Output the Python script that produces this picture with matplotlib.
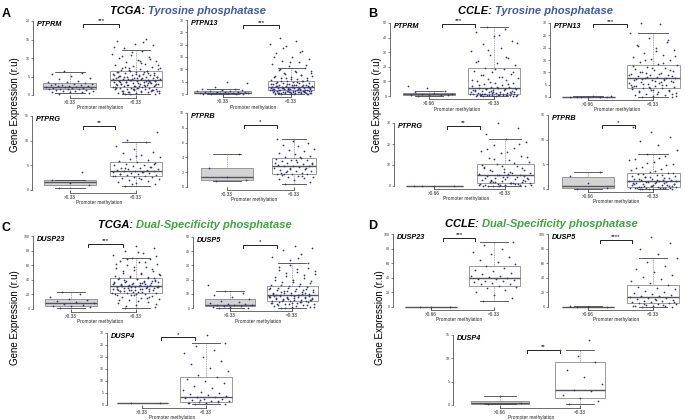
import matplotlib
matplotlib.use('Agg')
import matplotlib.pyplot as plt

plt.rcParams['font.family'] = ['Liberation Sans', 'DejaVu Sans']

W, H = 685, 420

# ---------------- data ----------------
# box stats per group: (whisker low, q1, median, q3, whisker high)
# first group = ">0.33"/">0.66" methylation, second group = "<0.33"

# A  TCGA tyrosine phosphatases
ptprm_tcga_box = [(0.5, 1.5, 2.1, 3.2, 6.1), (0.2, 2.1, 4.1, 6.5, 12.1)]
ptprm_tcga_hi = [0.3, 0.5, 0.7, 0.8, 0.9, 1.0, 1.1, 1.2, 1.3, 1.4, 1.5, 1.5, 1.6, 1.7, 1.8, 1.9, 2.0, 2.0,
                 2.1, 2.1, 2.2, 2.3, 2.4, 2.5, 2.6, 2.7, 2.8, 2.9, 3.0, 3.1, 3.2, 3.4, 3.6, 3.9, 4.2, 4.6,
                 5.1, 5.6, 6.0, 6.5]
ptprm_tcga_lo = [0.2, 0.4, 0.5, 0.6, 0.8, 0.9, 1.0, 1.1, 1.2, 1.3, 1.4, 1.5, 1.5, 1.6, 1.7, 1.8, 1.9, 2.0,
                 2.0, 2.1, 2.2, 2.3, 2.4, 2.5, 2.6, 2.7, 2.8, 2.9, 3.0, 3.1, 3.2, 3.3, 3.4, 3.5, 3.6, 3.7,
                 3.8, 3.9, 4.0, 4.1, 4.2, 4.3, 4.4, 4.5, 4.6, 4.7, 4.8, 4.9, 5.0, 5.1, 5.2, 5.4, 5.5, 5.6,
                 5.8, 5.9, 6.0, 6.2, 6.3, 6.5, 6.7, 6.9, 7.1, 7.3, 7.6, 7.9, 8.2, 8.5, 8.8, 9.1, 9.5, 9.9,
                 10.3, 10.8, 11.2, 11.9, 12.6, 13.4, 13.9, 14.5, 15.1, 0.7, 1.2, 2.4, 3.1, 3.6, 4.4, 5.3,
                 6.1, 7.7, 2.8, 1.9, 4.9, 3.3, 0.3, 0.6, 0.9, 1.1, 1.4, 1.7, 2.0, 2.3, 2.6, 2.9, 3.2, 3.5,
                 3.8, 4.1, 4.4, 4.7, 5.0, 5.3, 5.7, 6.1, 6.6, 7.2, 8.0, 9.3, 10.6, 1.0, 1.6, 2.2, 2.7, 3.4,
                 3.9, 4.6, 5.2, 5.9, 6.4, 7.4, 8.7, 0.5, 1.3, 2.5, 3.0, 3.7, 4.3, 4.8, 5.5, 6.8, 9.7, 11.5,
                 12.9, 14.2]

ptpn13_tcga_box = [(0.1, 0.25, 0.5, 1.1, 2.1), (0.0, 1.5, 2.8, 5.4, 10.5)]
ptpn13_tcga_hi = [0.1, 0.1, 0.2, 0.2, 0.2, 0.3, 0.3, 0.3, 0.4, 0.4, 0.5, 0.5, 0.6, 0.6, 0.7, 0.8, 0.8, 0.9,
                  1.0, 1.1, 1.2, 1.3, 1.5, 1.7, 1.9, 2.1, 3.0, 4.3, 4.8]
ptpn13_tcga_lo = [0.0, 0.1, 0.2, 0.2, 0.3, 0.4, 0.5, 0.5, 0.6, 0.7, 0.8, 0.9, 1.0, 1.0, 1.1, 1.2, 1.3, 1.4,
                  1.4, 1.5, 1.6, 1.7, 1.8, 1.9, 2.0, 2.0, 2.1, 2.2, 2.3, 2.4, 2.5, 2.6, 2.7, 2.7, 2.8, 2.9,
                  3.0, 3.1, 3.2, 3.3, 3.4, 3.6, 3.7, 3.8, 4.0, 4.1, 4.3, 4.5, 4.6, 4.8, 5.0, 5.2, 5.4, 5.7,
                  6.0, 6.3, 6.6, 7.0, 7.3, 7.8, 8.2, 8.7, 9.3, 9.8, 10.4, 11.2, 12.0, 12.8, 13.5, 14.3,
                  15.2, 16.5, 17.3, 19.5, 20.4, 21.6, 22.8, 0.3, 0.8, 1.1, 1.6, 2.2, 2.5, 3.5, 0.6, 1.3,
                  1.9, 2.4, 0.9, 0.4, 0.1, 0.3, 0.5, 0.7, 0.9, 1.1, 1.3, 1.5, 1.7, 1.9, 2.1, 2.3, 2.5, 2.8,
                  3.0, 3.3, 3.6, 3.9, 4.2, 4.7, 5.1, 5.6, 6.2, 6.8, 7.6, 8.4, 9.5, 0.2, 0.6, 1.0, 1.4, 1.8,
                  2.2, 2.6, 3.1, 3.5, 4.4, 5.3, 6.5, 7.1, 8.9, 10.1, 11.6, 13.1, 14.8, 16.9, 18.6, 0.4,
                  0.8, 1.2]

ptprg_tcga_box = [(0.5, 1.0, 1.6, 2.1, 2.1), (0.9, 2.8, 3.9, 5.7, 9.7)]
ptprg_tcga_hi = [0.5, 1.0, 1.5, 2.0, 3.7]
ptprg_tcga_lo = [0.9, 1.2, 1.4, 1.6, 1.8, 2.0, 2.2, 2.3, 2.5, 2.6, 2.7, 2.8, 2.9, 3.0, 3.1, 3.2, 3.3, 3.4,
                 3.5, 3.6, 3.7, 3.8, 3.9, 3.9, 4.0, 4.1, 4.2, 4.3, 4.4, 4.5, 4.6, 4.8, 5.0, 5.1, 5.3, 5.5,
                 5.6, 5.8, 6.0, 6.3, 6.6, 7.0, 7.4, 7.8, 8.3, 8.9, 9.7, 10.2, 11.7, 2.4, 3.3, 4.7, 1.3,
                 2.9, 3.6, 4.4, 5.2, 6.8]

ptprb_tcga_box = [(0.86, 0.95, 1.3, 2.6, 4.4), (0.4, 1.8, 2.8, 3.95, 6.5)]
ptprb_tcga_hi = [0.85, 0.95, 1.3, 2.6, 4.4]
ptprb_tcga_lo = [0.4, 0.7, 0.9, 1.1, 1.2, 1.3, 1.4, 1.5, 1.6, 1.7, 1.8, 1.8, 1.9, 2.0, 2.1, 2.2, 2.3, 2.4,
                 2.5, 2.6, 2.7, 2.8, 2.8, 2.9, 3.0, 3.1, 3.2, 3.3, 3.4, 3.5, 3.6, 3.7, 3.8, 3.9, 4.0, 4.2,
                 4.4, 4.6, 4.8, 5.0, 5.2, 5.5, 5.7, 6.0, 6.2, 6.5, 1.5, 2.2, 3.1, 3.6, 1.9, 2.6, 2.4, 3.3,
                 4.1, 1.7]

# B  CCLE tyrosine phosphatases
ptprm_ccle_box = [(0.2, 0.5, 1.1, 2.3, 3.4), (0.0, 1.1, 5.3, 19.5, 47.5)]
ptprm_ccle_hi = [0.2, 0.4, 0.6, 0.8, 1.0, 1.2, 1.6, 2.1, 2.6, 3.4, 5.2, 6.8]
ptprm_ccle_lo = [0.0, 0.1, 0.2, 0.3, 0.4, 0.5, 0.6, 0.7, 0.8, 0.9, 1.0, 1.1, 1.2, 1.4, 1.6, 1.8, 2.0, 2.2,
                 2.5, 2.8, 3.0, 3.3, 3.6, 3.9, 4.2, 4.5, 4.8, 5.1, 5.3, 5.6, 6.0, 6.5, 7.0, 7.5, 8.0, 8.6,
                 9.2, 10.0, 10.8, 11.5, 12.4, 13.3, 14.2, 15.0, 16.1, 17.0, 18.2, 19.5, 21.0, 22.5, 24.0,
                 26.0, 28.0, 30.5, 33.0, 35.5, 38.0, 41.0, 44.0, 46.0, 47.5, 0.3, 0.9, 1.5, 2.4, 3.1, 4.0,
                 0.6, 1.3, 2.7, 0.15, 0.35, 0.55, 0.75, 1.05, 1.35, 1.7, 2.1, 2.6, 3.2, 3.8, 4.6, 5.5, 6.3,
                 7.2, 8.3, 9.6, 11.0, 12.8, 14.6, 16.6, 18.8, 23.0, 27.0, 31.5, 36.5, 42.0, 0.45, 0.85, 1.9]

ptpn13_ccle_box = [(0.0, 0.05, 0.1, 0.2, 0.3), (0.0, 3.8, 7.6, 12.8, 26.0)]
ptpn13_ccle_hi = [0.0, 0.05, 0.1, 0.1, 0.15, 0.2, 0.25, 0.3]
ptpn13_ccle_lo = [0.0, 0.2, 0.5, 0.8, 1.0, 1.3, 1.6, 2.0, 2.3, 2.6, 3.0, 3.3, 3.6, 3.8, 4.0, 4.3, 4.6, 4.9,
                  5.2, 5.5, 5.8, 6.1, 6.4, 6.7, 7.0, 7.3, 7.6, 7.9, 8.2, 8.5, 8.8, 9.1, 9.4, 9.8, 10.2,
                  10.6, 11.0, 11.4, 11.8, 12.3, 12.8, 13.4, 14.0, 14.8, 15.5, 16.3, 17.0, 18.0, 19.0,
                  20.0, 21.0, 22.5, 24.0, 26.0, 29.5, 30.0, 1.1, 2.8, 4.4, 6.9, 9.6, 0.4, 1.2, 2.1, 2.9,
                  3.5, 4.1, 4.7, 5.3, 5.9, 6.5, 7.1, 7.7, 8.3, 8.9, 9.5, 10.1, 10.8, 11.6, 12.5, 13.7,
                  15.1, 16.7, 18.5, 20.5, 23.0, 3.9, 5.0, 6.2, 7.4, 8.6]

ptprg_ccle_box = [(0.0, 0.01, 0.02, 0.03, 0.05), (0.0, 1.5, 5.0, 10.5, 22.4)]
ptprg_ccle_hi = [0.0, 0.0, 0.05, 0.05]
ptprg_ccle_lo = [0.0, 0.2, 0.4, 0.6, 0.8, 1.0, 1.2, 1.5, 1.8, 2.1, 2.5, 2.8, 3.2, 3.6, 4.0, 4.4, 4.8, 5.0,
                 5.4, 5.9, 6.4, 7.0, 7.6, 8.2, 8.9, 9.6, 10.5, 11.4, 12.3, 13.3, 14.4, 15.5, 16.8, 18.0,
                 19.5, 21.0, 22.4, 25.0, 27.5, 29.8, 0.5, 1.4, 2.3, 3.0, 4.2, 0.1, 0.9, 1.7, 3.4, 5.6,
                 0.05, 0.3, 0.7, 1.1, 1.6, 2.0, 2.6, 3.1, 3.8, 4.5, 5.2, 6.1, 6.9, 7.8, 8.6, 9.3, 10.1,
                 11.0, 12.8, 14.0, 16.2, 17.5, 20.2, 0.15, 0.45, 1.3, 2.7, 4.6, 6.6, 8.4]

ptprb_ccle_box = [(0.1, 0.2, 0.7, 2.4, 3.5), (0.0, 0.4, 1.7, 3.2, 7.1)]
ptprb_ccle_hi = [0.1, 0.3, 1.2, 2.7, 3.5]
ptprb_ccle_lo = [0.0, 0.05, 0.1, 0.15, 0.2, 0.3, 0.35, 0.4, 0.5, 0.6, 0.7, 0.8, 0.9, 1.0, 1.1, 1.2, 1.3,
                 1.4, 1.5, 1.6, 1.7, 1.8, 1.9, 2.0, 2.1, 2.3, 2.5, 2.7, 2.9, 3.1, 3.2, 3.5, 3.8, 4.1, 4.5,
                 5.0, 5.5, 6.0, 6.6, 7.1, 8.0, 9.0, 9.8, 10.5, 11.5, 12.5, 0.2, 0.6, 1.0, 1.4, 0.3, 0.8,
                 0.02, 0.12, 0.25, 0.45, 0.55, 0.75, 0.95, 1.15, 1.35, 1.55, 1.75, 1.95, 2.2, 2.4, 2.6,
                 2.8, 3.0, 3.3, 3.7, 4.3, 4.8, 5.3, 5.8, 6.3, 0.08, 0.18, 0.65, 1.25, 1.85, 2.35]

# C  TCGA dual-specificity phosphatases
dusp23_tcga_box = [(1.8, 4.1, 8.7, 13.7, 23.7), (1.0, 22.4, 31.5, 42.9, 70.0)]
dusp23_tcga_hi = [1.8, 2.5, 3.5, 4.1, 5.5, 7.0, 8.7, 9.5, 10.5, 12.0, 13.7, 17.0, 20.5, 23.7]
dusp23_tcga_lo = [1, 3, 5, 8, 10, 12, 14, 15, 17, 18, 19, 20, 21, 22, 22.4, 23, 24, 25, 26, 27, 28, 28.5,
                  29, 30, 30.5, 31, 31.5, 32, 33, 34, 35, 36, 37, 38, 39, 40, 41, 42, 42.9, 44, 46, 48,
                  50, 52, 54, 56, 58, 60, 62, 64, 66, 68, 70, 74, 77, 80, 83, 86, 25.5, 29.5, 33.5, 36.5,
                  27.5, 31.2, 38.5, 23.5, 45, 34.5, 4, 7, 11, 13, 16, 19, 21.5, 23.2, 24.5, 25.8, 26.5,
                  27.2, 28.2, 29.2, 30.2, 31.8, 32.5, 33.2, 34.2, 35.5, 36.8, 37.5, 38.8, 40.5, 41.5, 43.5,
                  45.5, 47.5, 49.5, 52.5, 55, 57.5, 61, 65, 69, 72, 78, 24.8, 27.8, 30.8, 33.8, 36.2,
                  39.5, 42.2, 20.5, 18.5, 15.5, 26.2, 29.8, 35.2]

dusp5_tcga_box = [(0.0, 1.2, 2.3, 6.3, 12.2), (0.0, 5.2, 8.9, 15.2, 31.6)]
dusp5_tcga_hi = [0.0, 0.3, 0.6, 1.0, 1.2, 1.5, 1.8, 2.1, 2.3, 2.6, 3.0, 3.5, 4.2, 5.0, 6.3, 7.5, 9.0, 10.5,
                 12.2, 16.0]
dusp5_tcga_lo = [0.0, 0.5, 1.0, 1.5, 2.0, 2.5, 3.0, 3.5, 4.0, 4.5, 5.0, 5.2, 5.6, 6.0, 6.4, 6.8, 7.2, 7.6,
                 8.0, 8.4, 8.9, 9.3, 9.8, 10.3, 10.8, 11.4, 12.0, 12.6, 13.3, 14.0, 14.6, 15.2, 16.0,
                 17.0, 18.0, 19.0, 20.0, 21.5, 23.0, 24.5, 26.0, 27.5, 29.0, 31.6, 33.5, 36.0, 38.0,
                 41.0, 42.0, 44.0, 2.8, 4.8, 6.6, 7.4, 9.0, 11.0, 5.4, 3.8, 8.2, 12.9, 0.2, 0.8, 1.3,
                 1.8, 2.3, 2.9, 3.4, 4.2, 4.7, 5.5, 5.9, 6.2, 6.7, 7.0, 7.5, 7.9, 8.3, 8.7, 9.1, 9.6,
                 10.1, 10.6, 11.2, 11.8, 12.4, 13.1, 13.8, 14.4, 15.6, 16.5, 17.5, 18.6, 19.6, 21.0,
                 22.5, 24.0, 25.5, 27.0, 28.5, 30.5, 3.2, 4.4, 5.8, 6.9, 8.6, 9.4, 10.9, 12.2, 13.6, 35.0]

dusp4_tcga_box = [(1.0, 1.0, 1.0, 1.0, 1.0), (0.4, 1.4, 3.5, 11.6, 26.0)]
dusp4_tcga_hi = [1.0, 1.0]
dusp4_tcga_lo = [0.4, 0.6, 0.8, 1.0, 1.2, 1.4, 1.6, 1.8, 2.0, 2.3, 2.6, 3.0, 3.3, 3.5, 3.8, 4.2, 4.6, 5.0,
                 5.6, 6.3, 7.0, 8.0, 9.0, 10.0, 11.0, 11.6, 12.5, 14.0, 15.5, 17.0, 18.5, 20.0, 21.5,
                 23.0, 24.5, 26.0, 29.0, 0.9, 1.5, 2.1]

# D  CCLE dual-specificity phosphatases
dusp23_ccle_box = [(0.0, 0.0, 0.05, 0.1, 0.1), (7.8, 29.4, 40.0, 56.0, 88.5)]
dusp23_ccle_hi = [0.0, 0.0, 0.1]
dusp23_ccle_lo = [7.8, 12, 16, 20, 23, 26, 28, 29.4, 31, 32, 33, 34, 35, 36, 37, 38, 39, 40, 41, 42, 43,
                  45, 47, 49, 51, 53, 56, 59, 62, 65, 68, 72, 76, 80, 85, 88.5]

dusp5_ccle_box = [(0.0, 0.1, 0.3, 0.6, 0.8), (0.0, 5.5, 13.7, 30.0, 67.0)]
dusp5_ccle_hi = [0.0, 0.2, 0.5, 0.8]
dusp5_ccle_lo = [0.0, 0.5, 1.0, 1.5, 2.0, 2.8, 3.5, 4.2, 5.0, 5.5, 6.2, 7.0, 7.8, 8.6, 9.5, 10.4, 11.3,
                 12.2, 13.0, 13.7, 14.5, 15.5, 16.5, 17.8, 19.0, 20.5, 22.0, 24.0, 26.0, 28.0, 30.0,
                 32.5, 35.0, 38.0, 41.0, 44.0, 48.0, 52.0, 56.0, 61.0, 67.0, 73.0, 80.0, 88.0, 96.0,
                 1.2, 3.1, 4.6, 6.8, 9.1]

dusp4_ccle_box = [(0.2, 0.3, 0.5, 0.8, 2.0), (0.3, 1.5, 3.2, 9.2, 11.8)]
dusp4_ccle_hi = [0.2, 0.5, 2.0]
dusp4_ccle_lo = [0.3, 0.8, 1.5, 2.2, 3.0, 3.3, 4.5, 6.0, 7.5, 9.2, 10.5, 11.8, 14.0]

# ---------------- layout (pixels of the 685x420 canvas) ----------------
# sx: y-axis x, yt/y0: pixel rows of top tick / zero, c1,c2: group centres,
# w1,w2: box widths, br: bracket span in group units, by: bracket height (fraction of top tick)
subplots = [
    dict(gene='PTPRM', cut='>0.33', hi=ptprm_tcga_hi, lo=ptprm_tcga_lo, box=ptprm_tcga_box, ymax=20, step=5,
         stars='***', sx=33, yt=21, y0=95, c1=70, c2=136, w1=53, w2=52, br=(1.20, 1.74), by=0.96),
    dict(gene='PTPN13', cut='>0.33', hi=ptpn13_tcga_hi, lo=ptpn13_tcga_lo, box=ptpn13_tcga_box, ymax=30, step=5,
         stars='***', sx=187, yt=20, y0=94, c1=223, c2=291, w1=57, w2=46, br=(1.30, 1.82), by=0.93),
    dict(gene='PTPRG', cut='>0.33', hi=ptprg_tcga_hi, lo=ptprg_tcga_lo, box=ptprg_tcga_box, ymax=15, step=5,
         stars='**', sx=32, yt=116, y0=190, c1=70, c2=136, w1=53, w2=52, br=(1.20, 1.68), by=0.87),
    dict(gene='PTPRB', cut='>0.33', hi=ptprb_tcga_hi, lo=ptprb_tcga_lo, box=ptprb_tcga_box, ymax=10, step=2,
         stars='*', sx=187, yt=113, y0=187, c1=227, c2=294, w1=52, w2=44, br=(1.25, 1.75), by=0.84),
    dict(gene='PTPRM', cut='>0.66', hi=ptprm_ccle_hi, lo=ptprm_ccle_lo, box=ptprm_ccle_box, ymax=50, step=10,
         stars='***', sx=390, yt=23, y0=96, c1=429, c2=494, w1=52, w2=52, br=(1.20, 1.71), by=0.99),
    dict(gene='PTPN13', cut='>0.66', hi=ptpn13_ccle_hi, lo=ptpn13_ccle_lo, box=ptpn13_ccle_box, ymax=30, step=5,
         stars='***', sx=550, yt=23, y0=97, c1=588, c2=653, w1=53, w2=53, br=(1.08, 1.60), by=0.98),
    dict(gene='PTPRG', cut='>0.66', hi=ptprg_ccle_hi, lo=ptprg_ccle_lo, box=ptprg_ccle_box, ymax=30, step=10,
         stars='**', sx=394, yt=123, y0=186, c1=434, c2=505, w1=57, w2=57, br=(1.18, 1.65), by=0.96),
    dict(gene='PTPRB', cut='>0.66', hi=ptprb_ccle_hi, lo=ptprb_ccle_lo, box=ptprb_ccle_box, ymax=15, step=5,
         stars='*', sx=548, yt=115, y0=189, c1=588, c2=653, w1=52, w2=53, br=(1.22, 1.72), by=0.86),
    dict(gene='DUSP23', cut='>0.33', hi=dusp23_tcga_hi, lo=dusp23_tcga_lo, box=dusp23_tcga_box, ymax=100, step=20,
         stars='***', sx=33, yt=236, y0=309, c1=71, c2=136, w1=52, w2=52, br=(1.26, 1.80), by=0.89),
    dict(gene='DUSP5', cut='>0.33', hi=dusp5_tcga_hi, lo=dusp5_tcga_lo, box=dusp5_tcga_box, ymax=50, step=10,
         stars='*', sx=193, yt=237, y0=308, c1=230, c2=292, w1=50, w2=51, br=(1.21, 1.76), by=0.89),
    dict(gene='DUSP4', cut='>0.33', hi=dusp4_tcga_hi, lo=dusp4_tcga_lo, box=dusp4_tcga_box, ymax=30, step=5,
         stars='*', sx=107, yt=333, y0=405, c1=142, c2=206, w1=51, w2=52, br=(1.30, 1.83), by=0.94),
    dict(gene='DUSP23', cut='>0.66', hi=dusp23_ccle_hi, lo=dusp23_ccle_lo, box=dusp23_ccle_box, ymax=100, step=20,
         stars='***', sx=393, yt=234, y0=307, c1=431, c2=494, w1=52, w2=51, br=(1.19, 1.70), by=0.95),
    dict(gene='DUSP5', cut='>0.66', hi=dusp5_ccle_hi, lo=dusp5_ccle_lo, box=dusp5_ccle_box, ymax=100, step=20,
         stars='****', sx=548, yt=234, y0=307, c1=588, c2=653, w1=52, w2=52, br=(1.18, 1.68), by=0.92),
    dict(gene='DUSP4', cut='>0.66', hi=dusp4_ccle_hi, lo=dusp4_ccle_lo, box=dusp4_ccle_box, ymax=15, step=5,
         stars='**', sx=453, yt=335, y0=405, c1=500, c2=580, w1=58, w2=50, br=(1.34, 1.75), by=0.79),
]

BLUE = '#3d5ba9'
GREEN = '#3ca63c'
DOT = '#34348f'
EDGE = '#8a8a8a'

fig = plt.figure(figsize=(W / 100, H / 100), dpi=100)


def draw_sub(s):
    unit = s['c2'] - s['c1']
    pad = 3
    right_px = s['c2'] + s['w2'] / 2 + 5
    ax = fig.add_axes([s['sx'] / W, 1 - (s['y0'] + pad) / H,
                       (right_px - s['sx']) / W, (s['y0'] + pad - s['yt']) / H])
    ax.patch.set_alpha(0)
    ymax = s['ymax']
    per_px = ymax / (s['y0'] - s['yt'])
    ax.set_xlim(1 - (s['c1'] - s['sx']) / unit, 2 + (right_px - s['c2']) / unit)
    ax.set_ylim(-pad * per_px, ymax)

    widths = [s['w1'] / unit, s['w2'] / unit]
    stats = []
    for b in s['box']:
        stats.append(dict(whislo=b[0], q1=b[1], med=b[2], q3=b[3], whishi=b[4], fliers=[]))
    bp = ax.bxp(stats, positions=[1, 2], widths=widths, capwidths=[w * 0.55 for w in widths],
                patch_artist=True, showfliers=False,
                boxprops=dict(edgecolor=EDGE, linewidth=0.6),
                whiskerprops=dict(color=EDGE, linewidth=0.5, linestyle=(0, (1.5, 1))),
                capprops=dict(color='#444444', linewidth=0.6),
                medianprops=dict(color='#555555', linewidth=1.0))
    bp['boxes'][0].set_facecolor('#d3d3d3')
    bp['boxes'][1].set_facecolor('white')

    # jittered points
    for pos, vals, w in [(1, s['hi'], widths[0]), (2, s['lo'], widths[1])]:
        xs = [pos + (((i * 0.618034 + 0.27) % 1) - 0.5) * w * 0.92 for i in range(len(vals))]
        ax.scatter(xs, vals, s=1.6, color=DOT, linewidths=0, zorder=3, clip_on=False)

    # significance bracket
    yb = s['by'] * ymax
    tick = 3 * per_px
    ax.plot([s['br'][0], s['br'][0], s['br'][1], s['br'][1]], [yb - tick, yb, yb, yb - tick],
            color='#222222', lw=0.7, clip_on=False)
    ax.text(sum(s['br']) / 2, yb + 0.5 * per_px, s['stars'], ha='center', va='bottom', fontsize=4.5)

    ax.text(ax.get_xlim()[0] + 4 / unit, 0.95 * ymax, s['gene'], fontsize=5.2,
            fontweight='bold', fontstyle='italic', va='center', ha='left')

    for side in ['top', 'right']:
        ax.spines[side].set_visible(False)
    ax.spines['left'].set_bounds(0, ymax)
    ax.spines['bottom'].set_bounds(1, 2)
    ax.spines['left'].set_linewidth(0.5)
    ax.spines['bottom'].set_linewidth(0.5)
    ax.spines['left'].set_color('#333333')
    ax.spines['bottom'].set_color('#333333')
    ax.set_yticks(range(0, ymax + 1, s['step']))
    ax.tick_params(axis='y', labelsize=2.6, length=1.5, width=0.4, pad=1, colors='#333333')
    ax.set_xticks([1, 2])
    ax.set_xticklabels([s['cut'], '<0.33'])
    ax.tick_params(axis='x', labelsize=3.4, length=2.5, width=0.5, direction='in', pad=1.5, colors='#222222')
    ax.set_xlabel('Promoter methylation', fontsize=3.4, labelpad=0.3, color='#222222')


for s in subplots:
    draw_sub(s)

# panel letters
for letter, (x, y) in zip('ABCD', [(2, 14), (368, 14), (2, 228), (368, 226)]):
    fig.text(x / W, 1 - y / H, letter, fontsize=9, fontweight='bold', va='center', ha='left')

# y labels
for x, y in [(15, 105), (377, 105), (15, 318), (380, 318)]:
    fig.text(x / W, 1 - y / H, 'Gene Expression (r.u)', rotation=90, fontsize=7,
             ha='center', va='center')

# two-colour titles
titles = [('TCGA: ', 'Tyrosine phosphatase', BLUE, 110, 11),
          ('CCLE: ', 'Tyrosine phosphatase', BLUE, 458, 11),
          ('TCGA: ', 'Dual-Specificity phosphatase', GREEN, 98, 225),
          ('CCLE: ', 'Dual-Specificity phosphatase', GREEN, 445, 224)]
fig.canvas.draw()
rend = fig.canvas.get_renderer()
for first, second, col, x, y in titles:
    t = fig.text(x / W, 1 - y / H, first, fontsize=8, fontweight='bold', fontstyle='italic',
                 va='center', ha='left')
    bb = t.get_window_extent(rend)
    fig.text(bb.x1 / W, 1 - y / H, second, fontsize=8, fontweight='bold', fontstyle='italic',
             va='center', ha='left', color=col)

fig.savefig('out.png', dpi=100)
